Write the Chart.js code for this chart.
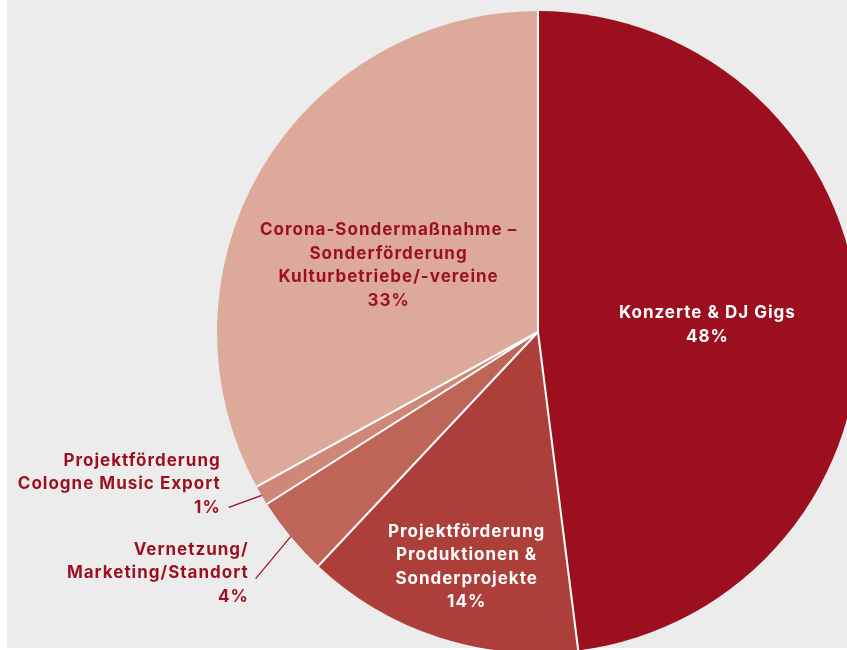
<!DOCTYPE html>
<html lang="de">
<head>
<meta charset="utf-8">
<title>Förderbereiche</title>
<script src="https://cdn.jsdelivr.net/npm/chart.js@4.4.1/dist/chart.umd.min.js"></script>
<style>
  html, body { margin: 0; padding: 0; background: #fff; overflow: hidden; }
  #bg { position: absolute; left: 7px; top: 0; width: 840px; height: 648px; background: #ececec; }
  #pie { position: absolute; left: 0; top: 0; }
</style>
</head>
<body>
<div id="bg"></div>
<canvas id="pie" width="900" height="660"></canvas>
<script>
// Anteile der Förderbereiche in Prozent
const categories = [
  'Konzerte & DJ Gigs',
  'Projektförderung Produktionen & Sonderprojekte',
  'Vernetzung/Marketing/Standort',
  'Projektförderung Cologne Music Export',
  'Corona-Sondermaßnahme – Sonderförderung Kulturbetriebe/-vereine'
];
const shares = [48, 14, 4, 1, 33];
const labelLines = [
  ['Konzerte & DJ Gigs'],
  ['Projektförderung', 'Produktionen &', 'Sonderprojekte'],
  ['Vernetzung/', 'Marketing/Standort'],
  ['Projektförderung', 'Cologne Music Export'],
  ['Corona-Sondermaßnahme –', 'Sonderförderung', 'Kulturbetriebe/-vereine']
];
const sliceColors = ['#9c0f1e', '#ad3f3b', '#bf6558', '#cf8777', '#dda99b'];

const darkRed = '#9c0f1e';
const font = '700 17px Inter, "Open Sans", sans-serif';
const lineH = 23.5;

// label placement: inside labels sit at r * radius (turned by a few degrees),
// outside labels hang off a leader line starting at the rim
const labelPos = [
  { r: 0.528, turn: 1.2, color: '#fff' },
  { r: 0.765, turn: -1.1, color: '#fff' },
  { outside: true, dx: -35, dy: 42, gap: 7, drop: 18 },
  { outside: true, dx: -33, dy: 12, gap: 8, drop: 0 },
  { r: 0.51, turn: -6.5, color: darkRed }
];

const sliceLabels = {
  id: 'sliceLabels',
  afterDatasetsDraw(chart) {
    const ctx = chart.ctx;
    const arcs = chart.getDatasetMeta(0).data;
    ctx.save();

    // white separators between the slices
    ctx.strokeStyle = '#fff';
    ctx.lineWidth = 2;
    arcs.forEach(a => {
      const p = a.getProps(['x', 'y', 'startAngle', 'outerRadius'], true);
      ctx.beginPath();
      ctx.moveTo(p.x, p.y);
      ctx.lineTo(p.x + Math.cos(p.startAngle) * p.outerRadius, p.y + Math.sin(p.startAngle) * p.outerRadius);
      ctx.stroke();
    });

    ctx.font = font;
    ctx.letterSpacing = '1px';
    ctx.textBaseline = 'middle';
    arcs.forEach((a, i) => {
      const p = a.getProps(['x', 'y', 'startAngle', 'endAngle', 'outerRadius'], true);
      const mid = (p.startAngle + p.endAngle) / 2;
      const lines = labelLines[i].concat([shares[i] + '%']);
      const pos = labelPos[i];
      if (pos.outside) {
        const ex = p.x + Math.cos(mid) * p.outerRadius;
        const ey = p.y + Math.sin(mid) * p.outerRadius;
        const tx = ex + pos.dx, ty = ey + pos.dy;
        ctx.strokeStyle = darkRed;
        ctx.lineWidth = 1.2;
        ctx.beginPath();
        ctx.moveTo(ex, ey);
        ctx.lineTo(tx, ty);
        ctx.stroke();
        ctx.fillStyle = darkRed;
        ctx.textAlign = 'right';
        const lastY = ty + pos.drop;
        lines.forEach((t, k) => {
          ctx.fillText(t, tx - pos.gap, lastY - (lines.length - 1 - k) * lineH);
        });
      } else {
        const ang = mid + pos.turn * Math.PI / 180;
        const cx = p.x + Math.cos(ang) * p.outerRadius * pos.r;
        const cy = p.y + Math.sin(ang) * p.outerRadius * pos.r;
        ctx.fillStyle = pos.color;
        ctx.textAlign = 'center';
        const top = cy - (lines.length - 1) * lineH / 2;
        lines.forEach((t, k) => ctx.fillText(t, cx, top + k * lineH));
      }
    });
    ctx.restore();
  }
};

new Chart(document.getElementById('pie'), {
  type: 'pie',
  data: {
    labels: categories,
    datasets: [{
      data: shares,
      backgroundColor: sliceColors,
      borderWidth: 0
    }]
  },
  options: {
    responsive: false,
    animation: false,
    layout: { padding: { left: 217, top: 11, right: 41, bottom: 7 } },
    plugins: {
      legend: { display: false },
      tooltip: { enabled: false }
    }
  },
  plugins: [sliceLabels]
});
</script>
</body>
</html>
